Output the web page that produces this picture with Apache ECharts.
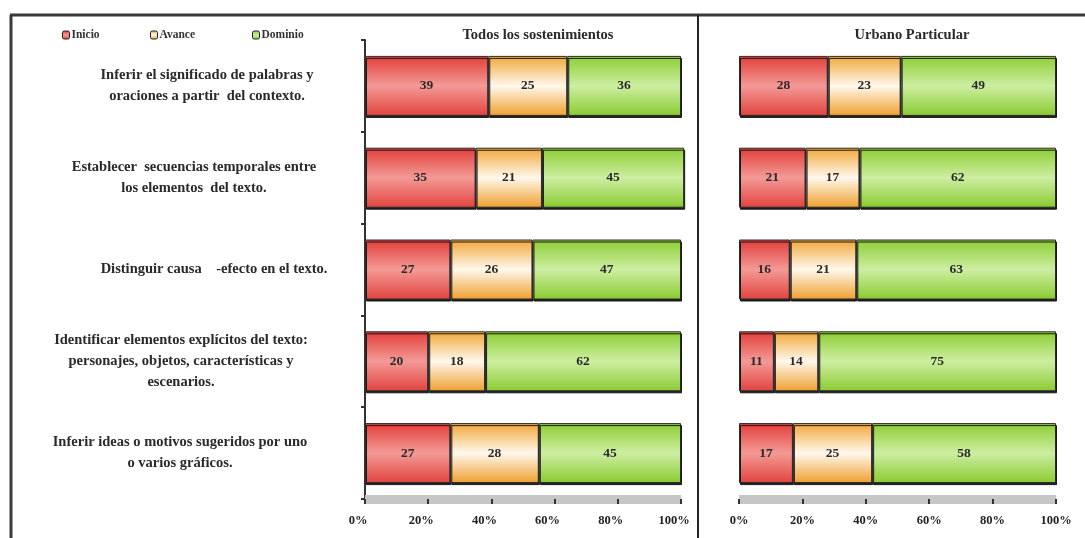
<!DOCTYPE html>
<html>
<head>
<meta charset="utf-8">
<script src="https://cdn.jsdelivr.net/npm/echarts@6/dist/echarts.min.js"></script>
<style>
  html, body { margin: 0; padding: 0; background: #ffffff; }
  #chart { width: 1085px; height: 538px; }
</style>
</head>
<body>
<div id="chart"></div>
<script>
// Achievement levels per reading skill
const categories = [
  'Inferir el significado de palabras y\noraciones a partir  del contexto.',
  'Establecer  secuencias temporales entre\nlos elementos  del texto.',
  'Distinguir causa    -efecto en el texto.',
  'Identificar elementos explícitos del texto:\npersonajes, objetos, características y\nescenarios.',
  'Inferir ideas o motivos sugeridos por uno\no varios gráficos.'
];
const levels = ['Inicio', 'Avance', 'Dominio'];
const panelTitles = ['Todos los sostenimientos', 'Urbano Particular'];
const xTicks = [0, 20, 40, 60, 80, 100];

// Todos los sostenimientos
const todosInicio = [39, 35, 27, 20, 27];
const todosAvance = [25, 21, 26, 18, 28];
const todosDominio = [36, 45, 47, 62, 45];

// Urbano Particular
const urbanoInicio = [28, 21, 16, 11, 17];
const urbanoAvance = [23, 17, 21, 14, 25];
const urbanoDominio = [49, 62, 63, 75, 58];

// small horizontal nudges so each wrapped label sits in its own column position
const labelShift = [14, 40, 0, 66, 68];

const serif = '"Liberation Serif", "Times New Roman", serif';

function grad(c0, c1, c2) {
  return new echarts.graphic.LinearGradient(0, 0, 0, 1, [
    { offset: 0, color: c0 },
    { offset: 0.5, color: c1 },
    { offset: 1, color: c2 }
  ]);
}
const fills = [
  grad('#e23d38', '#f39a96', '#e2433e'),
  grad('#f1a637', '#fff8ec', '#ef9f2e'),
  grad('#8ccd33', '#cdeea2', '#8acb31')
];

const chart = echarts.init(document.getElementById('chart'), null, { renderer: 'canvas' });

const grids = [
  { left: 365, right: 404, top: 40, bottom: 39 },
  { left: 739, right: 29, top: 40, bottom: 39 }
];

function xAxisFor(idx, shift) {
  return {
    type: 'value', gridIndex: idx, min: 0, max: 100, interval: 20,
    axisLine: { show: true, lineStyle: { color: '#c6c6c6', width: 9, cap: 'butt' } },
    axisTick: { show: true, length: 5, lineStyle: { color: '#333', width: 2 } },
    splitLine: { show: false },
    axisLabel: {
      formatter: v => xTicks.includes(v) ? v + '%' : '',
      color: '#222', fontFamily: serif, fontWeight: 'bold', fontSize: 12.5,
      margin: 15, padding: [0, shift, 0, 0]
    }
  };
}

const rich = {};
labelShift.forEach((p, i) => {
  rich['c' + i] = {
    fontFamily: serif, fontWeight: 'bold', fontSize: 14.5, color: '#2a2a2a',
    lineHeight: 21, align: 'center', padding: [0, p, 0, 0]
  };
});

const yAxes = [
  {
    type: 'category', gridIndex: 0, data: categories, inverse: true,
    axisLine: { show: true, lineStyle: { color: '#333', width: 2 } },
    axisTick: { show: true, length: 4, lineStyle: { color: '#333', width: 2 } },
    axisLabel: {
      margin: 151, align: 'center',
      formatter: (v, i) => v.split('\n').map(s => '{c' + i + '|' + s + '}').join('\n'),
      rich: rich
    }
  },
  {
    type: 'category', gridIndex: 1, data: categories, inverse: true,
    axisLine: { show: false }, axisTick: { show: false }, axisLabel: { show: false }
  }
];

const panelData = [
  [todosInicio, todosAvance, todosDominio],
  [urbanoInicio, urbanoAvance, urbanoDominio]
];

const series = [];
panelData.forEach((sets, p) => {
  sets.forEach((vals, k) => {
    series.push({
      name: levels[k], type: 'bar', stack: 'panel' + p,
      xAxisIndex: p, yAxisIndex: p, data: vals,
      barWidth: 60, clip: false,
      itemStyle: {
        color: fills[k], borderColor: '#2b2b2b', borderWidth: 1,
        shadowColor: 'rgba(20,20,20,0.95)', shadowOffsetY: 2, shadowOffsetX: 1, shadowBlur: 0
      },
      label: {
        show: true, position: 'inside', color: '#2a2a2a',
        fontFamily: serif, fontWeight: 'bold', fontSize: 13.5
      }
    });
  });
});

const legendLeft = [62, 150, 252];
const legends = levels.map((name, k) => ({
  data: [name], left: legendLeft[k], top: 29, padding: 0,
  itemWidth: 7, itemHeight: 8, itemGap: 2, selectedMode: false,
  itemStyle: { borderColor: '#222', borderWidth: 1 },
  textStyle: { fontFamily: serif, fontWeight: 'bold', fontSize: 11.5, color: '#333', padding: [0, 0, 0, -3] }
}));

chart.setOption({
  animation: false,
  backgroundColor: '#ffffff',
  grid: grids,
  xAxis: [xAxisFor(0, 14), xAxisFor(1, 0)],
  yAxis: yAxes,
  legend: legends,
  series: series,
  graphic: [
    { type: 'line', shape: { x1: 10, y1: 15, x2: 1085, y2: 15 }, style: { stroke: '#3a3a3a', lineWidth: 3 } },
    { type: 'line', shape: { x1: 11, y1: 15, x2: 11, y2: 538 }, style: { stroke: '#3a3a3a', lineWidth: 3 } },
    { type: 'line', shape: { x1: 698, y1: 15, x2: 698, y2: 538 }, style: { stroke: '#222', lineWidth: 2 } },
    { type: 'text', x: 538, y: 35, style: { text: panelTitles[0], align: 'center', verticalAlign: 'middle', fontFamily: serif, fontWeight: 'bold', fontSize: 14.5, fill: '#2a2a2a' } },
    { type: 'text', x: 912, y: 35, style: { text: panelTitles[1], align: 'center', verticalAlign: 'middle', fontFamily: serif, fontWeight: 'bold', fontSize: 14.5, fill: '#2a2a2a' } }
  ]
});
</script>
</body>
</html>
